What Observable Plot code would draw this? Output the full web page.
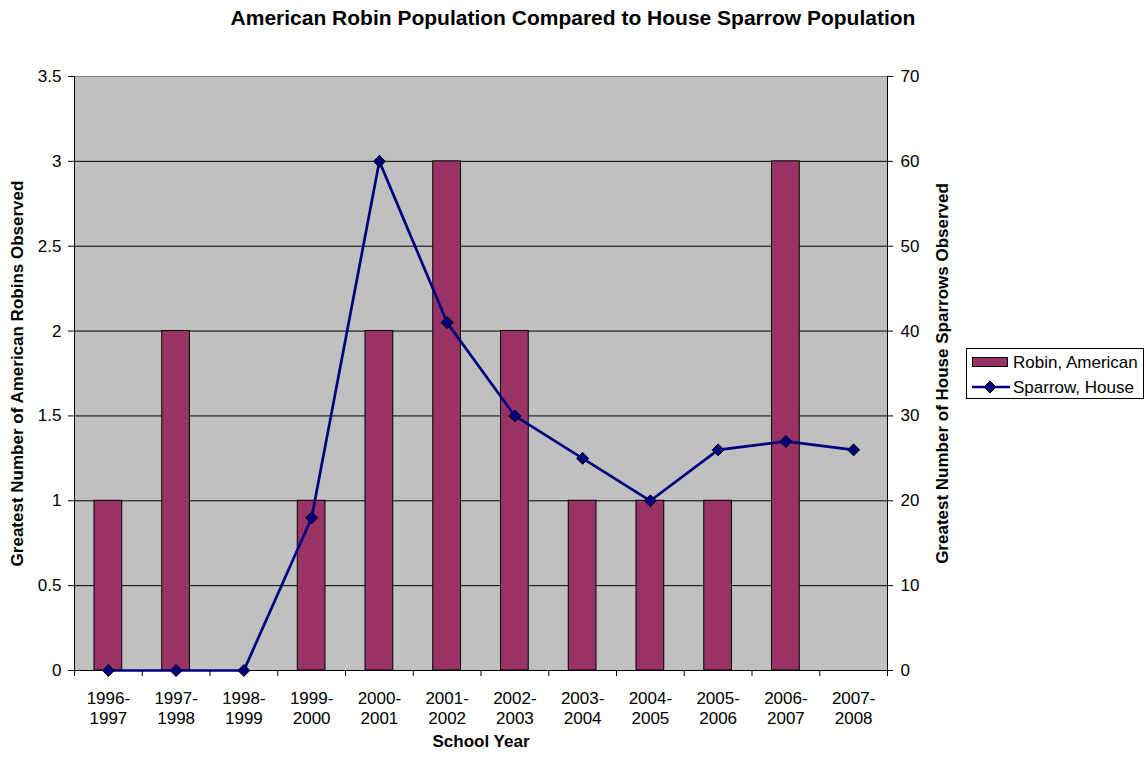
<!DOCTYPE html>
<html>
<head>
<meta charset="utf-8">
<script src="https://cdn.jsdelivr.net/npm/d3@7"></script>
<script src="https://cdn.jsdelivr.net/npm/@observablehq/plot@0.6"></script>
<style>
  html, body { margin: 0; padding: 0; background: white; }
  #wrap { position: relative; width: 1146px; height: 759px; font-family: "Liberation Sans", Arial, sans-serif; }
  #title { position: absolute; left: 0; top: 7px; width: 1146px; text-align: center; font-weight: bold; font-size: 21px; line-height: 21px; color: black; }
  #legend { position: absolute; left: 0; top: 0; pointer-events: none; }
</style>
</head>
<body>
<div id="wrap">
  <div id="chart"></div>
  <div id="title"></div>
  <svg id="legend" width="1146" height="759"></svg>
</div>
<script>
const titleText = "American Robin Population Compared to House Sparrow Population";
const years = ["1996-1997","1997-1998","1998-1999","1999-2000","2000-2001","2001-2002","2002-2003","2003-2004","2004-2005","2005-2006","2006-2007","2007-2008"];
const robins = [1, 2, 0, 1, 2, 3, 2, 1, 1, 1, 3, 0];
const sparrows = [0, 0, 0, 18, 60, 41, 30, 25, 20, 26, 27, 26];
const robinTicks = [0, 0.5, 1, 1.5, 2, 2.5, 3, 3.5];
const sparrowTicks = [0, 10, 20, 30, 40, 50, 60, 70];
const seriesNames = ["Robin, American", "Sparrow, House"];
const xLabel = "School Year";
const yLeftLabel = "Greatest Number of American Robins Observed";
const yRightLabel = "Greatest Number of House Sparrows Observed";

const data = years.map((y, i) => ({year: y, robin: robins[i], sparrow: sparrows[i]}));
const ratio = sparrowTicks[sparrowTicks.length - 1] / robinTicks[robinTicks.length - 1];

const W = 1146, H = 759, ML = 74, MR = 259, MT = 76, MB = 89;
const step = (W - ML - MR) / years.length;
const barColor = "#993366", lineColor = "#000080";

document.getElementById("title").textContent = titleText;

const chart = Plot.plot({
  width: W, height: H,
  marginLeft: ML, marginRight: MR, marginTop: MT, marginBottom: MB,
  style: {fontFamily: "'Liberation Sans', Arial, sans-serif", fontSize: "17px", color: "black", background: "white"},
  x: {type: "band", domain: years, padding: 0, round: false},
  y: {domain: [robinTicks[0], robinTicks[robinTicks.length - 1]]},
  marks: [
    Plot.frame({fill: "#c0c0c0", stroke: "#808080"}),
    Plot.gridY({ticks: robinTicks.slice(1, -1), stroke: "black", strokeOpacity: 1}),
    Plot.barY(data.filter(d => d.robin > 0), {x: "year", y: "robin", fill: barColor, stroke: "black", strokeWidth: 1, insetLeft: 20, insetRight: 20}),
    Plot.ruleY([0], {stroke: "black"}),
    Plot.ruleX([years[0]], {dx: -step / 2, stroke: "black"}),
    Plot.ruleX([years[years.length - 1]], {dx: step / 2, stroke: "black"}),
    Plot.line(data, {x: "year", y: d => d.sparrow / ratio, stroke: lineColor, strokeWidth: 2.7}),
    Plot.dot(data, {x: "year", y: d => d.sparrow / ratio, symbol: "diamond2", r: 5.4, fill: lineColor, stroke: "black", strokeWidth: 1}),
    Plot.axisY({ticks: robinTicks, tickFormat: d => String(d), tickSize: 6, tickPadding: 7, label: null}),
    Plot.axisY({anchor: "right", ticks: sparrowTicks.map(v => v / ratio), tickFormat: v => String(Math.round(v * ratio)), tickSize: 5, tickPadding: 8, label: null}),
    Plot.axisX({tickSize: 0, tickPadding: 19, tickFormat: d => d.replace("-", "-\n"), lineHeight: 1.18, label: null}),
    Plot.axisX({ticks: years, tickFormat: () => "", tickSize: 6, dx: -step / 2, label: null}),
    Plot.axisX({ticks: [years[years.length - 1]], tickFormat: () => "", tickSize: 6, dx: step / 2, label: null}),
    Plot.text([xLabel], {frameAnchor: "bottom", text: d => d, dy: 76, fontWeight: "bold", fontSize: 17}),
    Plot.text([yLeftLabel], {frameAnchor: "left", text: d => d, dx: -57, rotate: -90, textAnchor: "middle", fontWeight: "bold", fontSize: 17}),
    Plot.text([yRightLabel], {frameAnchor: "right", text: d => d, dx: 55, rotate: -90, textAnchor: "middle", fontWeight: "bold", fontSize: 17})
  ]
});
document.getElementById("chart").appendChild(chart);

// Legend
const lg = d3.select("#legend");
lg.append("rect").attr("x", 966.5).attr("y", 348.5).attr("width", 177).attr("height", 50)
  .attr("fill", "white").attr("stroke", "black");
lg.append("rect").attr("x", 972.5).attr("y", 357.5).attr("width", 35).attr("height", 9)
  .attr("fill", barColor).attr("stroke", "black");
lg.append("line").attr("x1", 972).attr("x2", 1010).attr("y1", 387).attr("y2", 387)
  .attr("stroke", lineColor).attr("stroke-width", 2.7);
lg.append("path").attr("d", d3.symbol(d3.symbolDiamond2, Math.PI * 5.4 * 5.4)()).attr("transform", "translate(990,387)")
  .attr("fill", lineColor).attr("stroke", "black");
lg.selectAll("text.lt").data(seriesNames).join("text").attr("class", "lt")
  .attr("x", 1013).attr("y", (d, i) => 368 + i * 25)
  .attr("font-family", "'Liberation Sans', Arial, sans-serif").attr("font-size", 17).attr("fill", "black")
  .text(d => d);
</script>
</body>
</html>
